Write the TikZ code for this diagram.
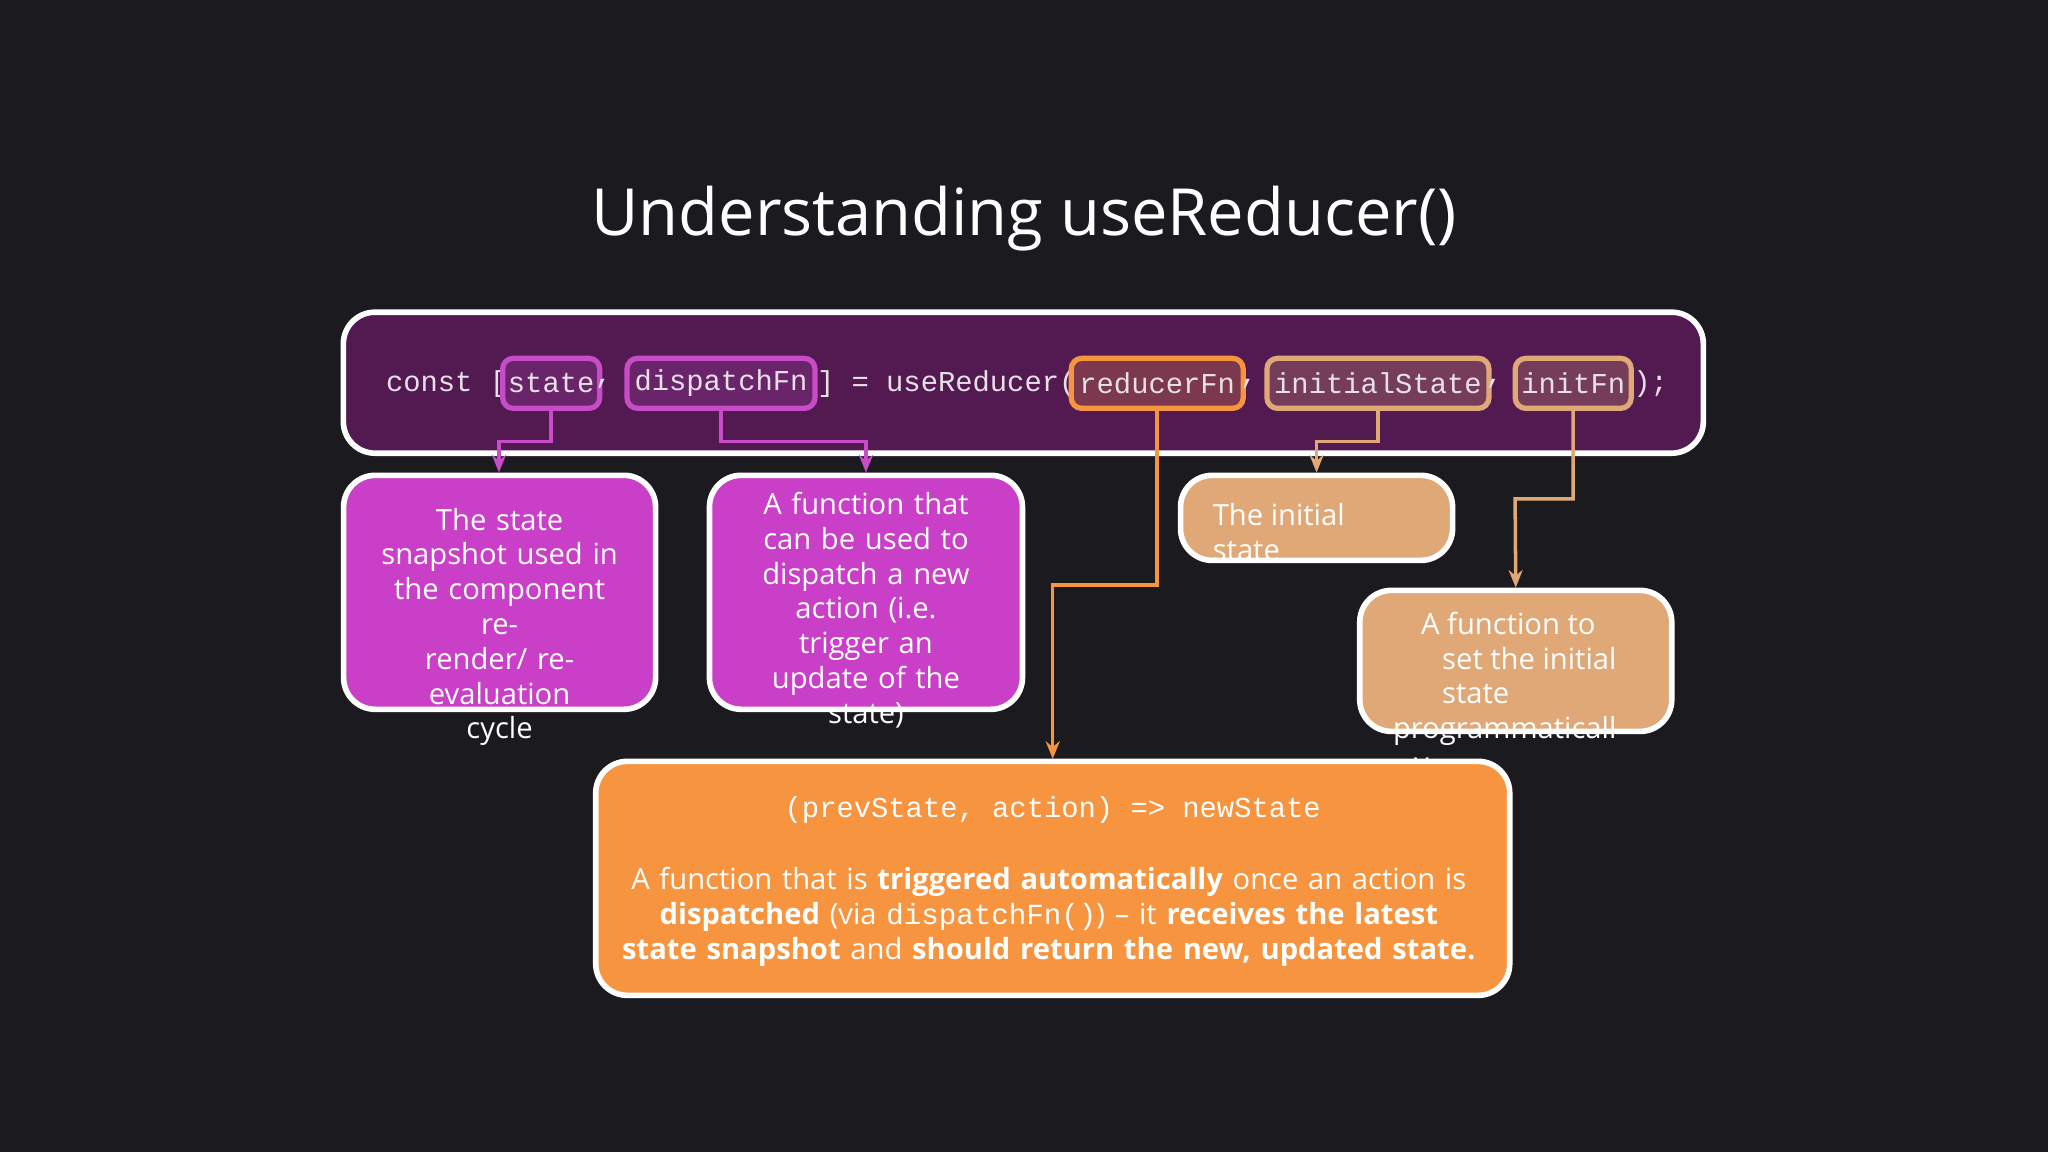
\documentclass[tikz,border=0pt]{standalone}
\usepackage{fontspec}
\setmainfont{Open Sans}
\newfontfamily\codefont{Liberation Mono}
\usetikzlibrary{arrows.meta}
\definecolor{bg}{HTML}{1B1A1F}
\definecolor{codebg}{HTML}{531A52}
\definecolor{mag}{HTML}{C93FC7}
\definecolor{magline}{HTML}{C84BC8}
\definecolor{org}{HTML}{F7943F}
\definecolor{tan}{HTML}{E0A877}
\definecolor{codetxt}{HTML}{E8E0E8}
\begin{document}
\begin{tikzpicture}[x=0.01306cm,y=-0.01306cm,
  card/.style={draw=white,line width=1.6pt,rounded corners=9pt},
  tok/.style={draw,line width=1.5pt,rounded corners=3pt,inner sep=0pt,minimum height=0.5cm,font=\codefont\fontsize{8.2}{10}\selectfont,text=codetxt},
  code/.style={font=\codefont\fontsize{8.2}{10}\selectfont,text=codetxt,inner sep=0pt},
  body/.style={text=white,font=\fontsize{8.3}{9.9}\selectfont,align=center,inner sep=0pt},
  link/.style={line width=1pt,-{Stealth[length=5pt,width=4pt]}}]
\fill[bg] (0,0) rectangle (1568,882);
\useasboundingbox (0,0) rectangle (1568,882);
\node[text=white,font=\fontsize{18.5}{22}\selectfont] (title) at (784,167) {Understanding useReducer()};
% code line
\node[card,fill=codebg,minimum width=13.6cm,minimum height=1.41cm] (main) at (783.5,293) {};
\node[code,anchor=west] (c1) at (295,294) {const [};
\node[tok,draw=magline,fill=magline!20!codebg,minimum width=0.97cm] (state) at (422,293.5) {state};
\node[code] (c2) at (462,294) {,};
\node[tok,draw=magline,fill=magline!20!codebg,minimum width=1.88cm] (disp) at (552,293.5) {dispatchFn};
\node[code,anchor=west] (c3) at (625,294) {] = useReducer(};
\node[tok,draw=org,fill=org!25!codebg,minimum width=1.72cm] (red) at (886,293.5) {reducerFn};
\node[code] (c4) at (956,294) {,};
\node[tok,draw=tan,fill=tan!25!codebg,minimum width=2.22cm] (init) at (1055,293.5) {initialState};
\node[code] (c5) at (1144,294) {,};
\node[tok,draw=tan,fill=tan!25!codebg,minimum width=1.16cm] (ifn) at (1204.5,293.5) {initFn};
\node[code,anchor=west] (c6) at (1250,294) {);};
% boxes
\node[card,fill=mag,minimum width=3.12cm,minimum height=2.34cm] (b1) at (382.5,453.5) {};
\node[body,text width=2.6cm] (t1) at (382.5,480) {The state\\snapshot used in\\the component\\re-\\render/ re-\\evaluation\\cycle};
\node[card,fill=mag,minimum width=3.13cm,minimum height=2.34cm] (b2) at (663,453.5) {};
\node[body,text width=2.6cm] (t2) at (663,467) {A function that\\can be used to\\dispatch a new\\action (i.e.\\trigger an\\update of the\\state)};
\node[card,fill=tan,minimum width=2.72cm,minimum height=0.85cm] (b3) at (1008,396.5) {};
\node[body,align=left,anchor=north west] (t3) at (928,385) {The initial\\state};
\node[card,fill=tan,minimum width=3.12cm,minimum height=1.41cm] (b4) at (1160.5,506) {};
\node[body,align=left,anchor=north west] (t4) at (1066,468) {\hspace*{8pt}A function to\\\hspace*{14pt}set the initial\\\hspace*{14pt}state\\programmaticall\\\hspace*{6pt}y};
\node[card,fill=org,minimum width=9.14cm,minimum height=2.34cm] (b5) at (806,672.5) {};
\node[code,text=white] (t5a) at (806,620) {(prevState, action) => newState};
\node[body,text width=9cm] (t5b) at (803,702) {A function that is \textbf{triggered automatically} once an action is\\\textbf{dispatched} (via {\codefont dispatchFn()}) – it \textbf{receives the latest}\\\textbf{state snapshot} and \textbf{should return the new, updated state.}};
% connectors
\draw[link,magline] (state.south) |- (382,338) -- (b1.north -| 382,0);
\draw[link,magline] (disp.south) |- (663,338) -- (b2.north);
\draw[link,org] (red.south) |- (806,448) -- (806,581);
\draw[link,tan] (init.south) |- (1008,338) -- (b3.north);
\draw[link,tan] (ifn.south) |- (1160,382) -- (b4.north);
\end{tikzpicture}
\end{document}
